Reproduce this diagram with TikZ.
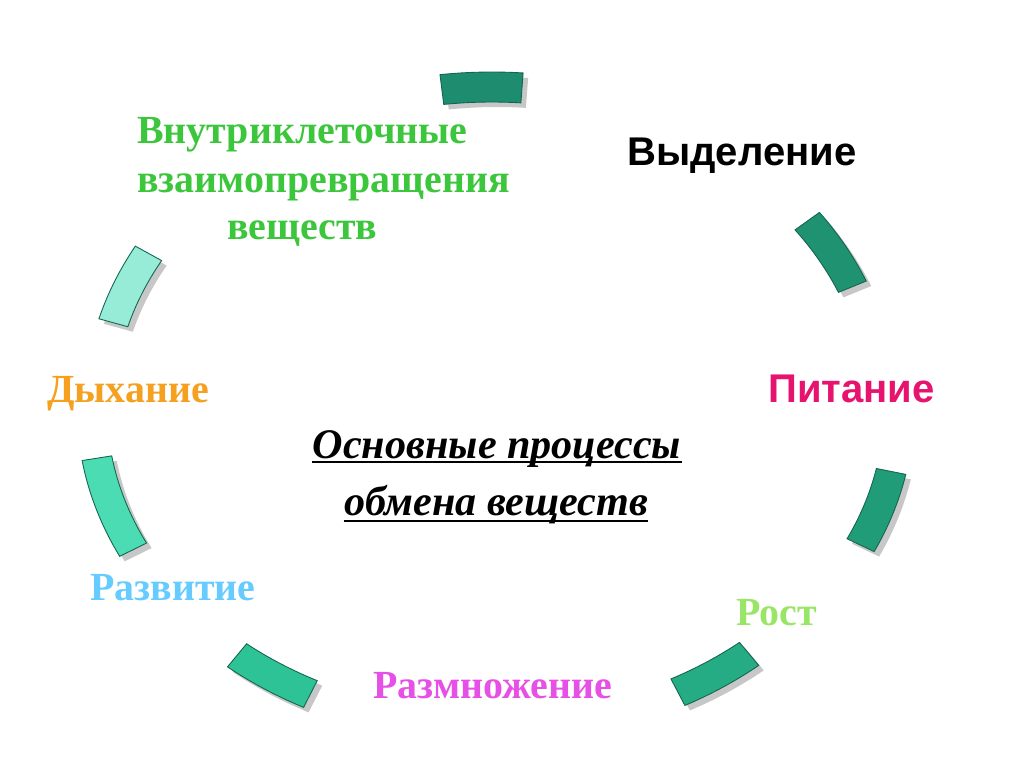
\documentclass[tikz,border=0pt]{standalone}
\usepackage{fontspec}
\setmainfont{Liberation Serif}
\newfontfamily\arialfont{Liberation Sans}
\usetikzlibrary{calc}
\definecolor{segA}{RGB}{30,140,110}
\definecolor{segB}{RGB}{30,146,113}
\definecolor{segC}{RGB}{32,156,120}
\definecolor{segD}{RGB}{38,172,132}
\definecolor{segE}{RGB}{45,195,150}
\definecolor{segF}{RGB}{75,220,180}
\definecolor{segG}{RGB}{150,236,215}
\definecolor{segline}{RGB}{20,100,80}
\definecolor{txgreen}{RGB}{60,198,60}
\definecolor{txorange}{RGB}{245,160,30}
\definecolor{txpink}{RGB}{230,20,110}
\definecolor{txblue}{RGB}{102,204,255}
\definecolor{txlime}{RGB}{153,230,102}
\definecolor{txmagenta}{RGB}{230,80,230}
\newcommand\ringseg[4]{%
  \begin{scope}[shift={(#4)}]
  \begin{scope}[shift={(5,-5)}]
    \fill[ringshadow] ({492+415*cos(#1)},{360+336*sin(#1)}) arc[start angle=#1,end angle=#2,x radius=415,y radius=336]
      -- ({492+385*cos(#2)},{360+306*sin(#2)}) arc[start angle=#2,end angle=#1,x radius=385,y radius=306] -- cycle;
  \end{scope}
  \path[ring,fill=#3] ({492+415*cos(#1)},{360+336*sin(#1)}) arc[start angle=#1,end angle=#2,x radius=415,y radius=336]
      -- ({492+385*cos(#2)},{360+306*sin(#2)}) arc[start angle=#2,end angle=#1,x radius=385,y radius=306] -- cycle;
  \end{scope}
}
\begin{document}
\begin{tikzpicture}[x=0.02cm, y=0.02cm,
  ring/.style={draw=segline, line width=0.5pt},
  ringshadow/.style={fill=black!22},
  lbl/.style={inner sep=0pt, font=\fontsize{22.7}{27}\selectfont\bfseries},
  slbl/.style={inner sep=0pt, font=\arialfont\fontsize{22.8}{27}\selectfont\bfseries},
  mid/.style={inner sep=0pt, font=\fontsize{24}{29}\selectfont\bfseries\itshape},
  uline/.style={line width=1.5pt}]
\useasboundingbox (0,0) rectangle (1024,768);
\fill[white] (0,0) rectangle (1024,768);
% ring segments
\ringseg{85.7}{97.2}{segA}{0,0}
\ringseg{22.2}{35.6}{segB}{-10,0}
\ringseg{-25.3}{-11.4}{segC}{7,0}
\ringseg{-62.3}{-50}{segD}{0,0}
\ringseg{-129.6}{-117}{segE}{0,0}
\ringseg{189}{206.2}{segF}{0,0}
\ringseg{151.2}{164.6}{segG}{7,0}
% labels
\node[lbl, text=txgreen, anchor=base west] (v1) at (137,624) {Внутриклеточные};
\node[lbl, text=txgreen, anchor=base west] (v2) at (137,575) {взаимопревращения};
\node[lbl, text=txgreen, anchor=base west] (v3) at (227,528) {веществ};
\node[slbl, text=black, anchor=base west] (vyd) at (627,602) {Выделение};
\node[lbl, text=txorange, anchor=base west] (dyh) at (47,365) {Дыхание};
\node[slbl, text=txpink, anchor=base west] (pit) at (768,365) {Питание};
\node[lbl, text=txblue, anchor=base west] (razv) at (90,168) {Развитие};
\node[lbl, text=txlime, anchor=base west] (rost) at (736,143) {Рост};
\node[lbl, text=txmagenta, anchor=base west] (razm) at (373,70) {Размножение};
% center
\node[mid, anchor=base] (m1) at (497,310) {Основные процессы};
\node[mid, anchor=base] (m2) at (496,253) {обмена веществ};
\draw[uline] ($(m1.base west)+(0,-4)$) -- ($(m1.base east)+(0,-4)$);
\draw[uline] ($(m2.base west)+(0,-6)$) -- ($(m2.base east)+(0,-6)$);
\end{tikzpicture}
\end{document}
